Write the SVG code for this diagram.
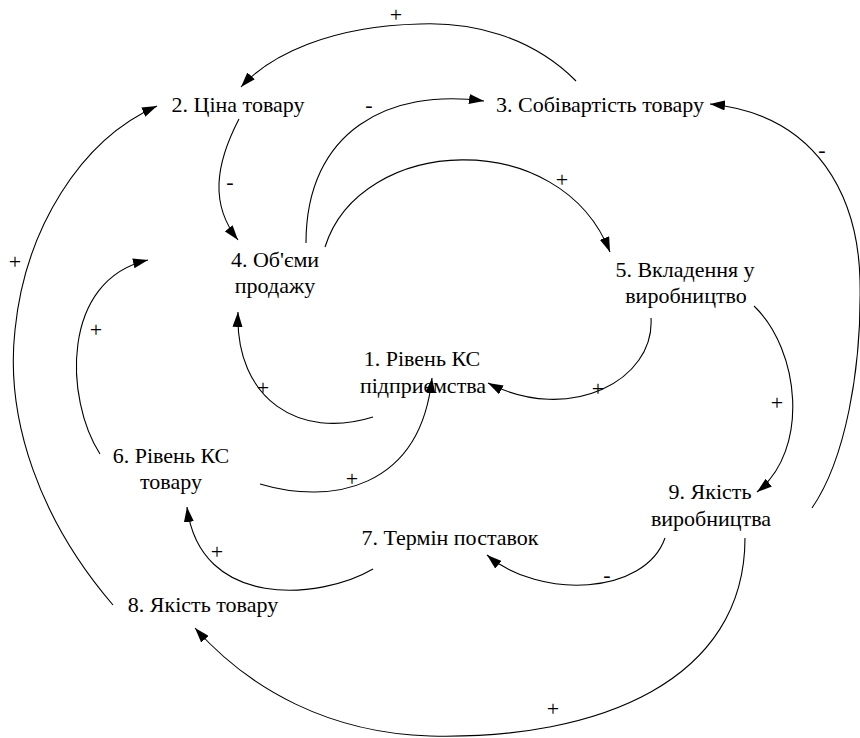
<svg xmlns="http://www.w3.org/2000/svg" width="860" height="738" viewBox="0 0 860 738">
<style>
text{font-family:'Liberation Serif','Times New Roman','DejaVu Serif',serif;fill:#000;text-anchor:middle}
.n{font-size:22px}
.l{font-size:22px}
.c{fill:none;stroke:#000;stroke-width:1.1}
</style>
<defs>
<marker id="a" viewBox="0 0 15 10" refX="15" refY="5" markerWidth="15" markerHeight="10" markerUnits="userSpaceOnUse" orient="auto">
<path d="M0,0 L15,5 L0,10 Z" fill="#000"/>
</marker>
</defs>
<rect width="860" height="738" fill="#fff"/>
<g id="connectors">
<path class="c" marker-end="url(#a)" d="M576,81 C530,35 470,22 420,24 C330,26 270,55 241,87"/>
<path class="c" marker-end="url(#a)" d="M239,119 C215,165 210,205 238,240"/>
<path class="c" marker-end="url(#a)" d="M306,243 C306,130 390,88 484,101"/>
<path class="c" marker-end="url(#a)" d="M325,247 C360,135 560,125 610,252"/>
<path class="c" marker-end="url(#a)" d="M651,318 C655,380 570,425 488,383"/>
<path class="c" marker-end="url(#a)" d="M754,306 C800,350 810,450 757,492"/>
<path class="c" marker-end="url(#a)" d="M812,508 C845,460 862,370 860,280 C858,200 820,115 710,104"/>
<path class="c" marker-end="url(#a)" d="M113,605 C40,520 5,420 15,330 C25,230 80,140 157,106"/>
<path class="c" marker-end="url(#a)" d="M100,454 C65,400 60,280 148,260"/>
<path class="c" marker-end="url(#a)" d="M373,417 C300,440 235,400 238,312"/>
<path class="c" marker-end="url(#a)" d="M260,484 C330,505 420,490 432,378"/>
<path class="c" marker-end="url(#a)" d="M373,569 C320,600 200,610 187,507"/>
<path class="c" marker-end="url(#a)" d="M665,538 C645,595 540,600 487,555"/>
<path class="c" marker-end="url(#a)" d="M745,538 C745,680 600,740 430,736 C330,733 250,690 195,628"/>
<g id="labels" font-family="Liberation Serif, serif">
<text class="l" x="396" y="22">+</text>
<text class="l" x="369" y="112">-</text>
<text class="l" x="230" y="189">-</text>
<text class="l" x="562" y="187">+</text>
<text class="l" x="822" y="157">-</text>
<text class="l" x="15" y="269">+</text>
<text class="l" x="96" y="337">+</text>
<text class="l" x="263" y="395">+</text>
<text class="l" x="352" y="486">+</text>
<text class="l" x="598" y="396">+</text>
<text class="l" x="777" y="410">+</text>
<text class="l" x="217" y="559">+</text>
<text class="l" x="607" y="582">-</text>
<text class="l" x="553" y="716">+</text>
</g>
</g>
<g id="n1"><text class="n" x="422" y="366">1. Рівень КС</text><text class="n" x="423" y="393">підприємства</text></g>
<g id="n2"><text class="n" x="238" y="112">2. Ціна товару</text></g>
<g id="n3"><text class="n" x="600" y="112">3. Собівартість товару</text></g>
<g id="n4"><text class="n" x="275" y="267">4. Об'єми</text><text class="n" x="275" y="293">продажу</text></g>
<g id="n5"><text class="n" x="685" y="277">5. Вкладення у</text><text class="n" x="686" y="303">виробництво</text></g>
<g id="n6"><text class="n" x="171" y="463">6. Рівень КС</text><text class="n" x="171" y="489">товару</text></g>
<g id="n7"><text class="n" x="450" y="545">7. Термін поставок</text></g>
<g id="n8"><text class="n" x="203" y="612">8. Якість товару</text></g>
<g id="n9"><text class="n" x="710" y="499">9. Якість</text><text class="n" x="711" y="526">виробництва</text></g>
</svg>
